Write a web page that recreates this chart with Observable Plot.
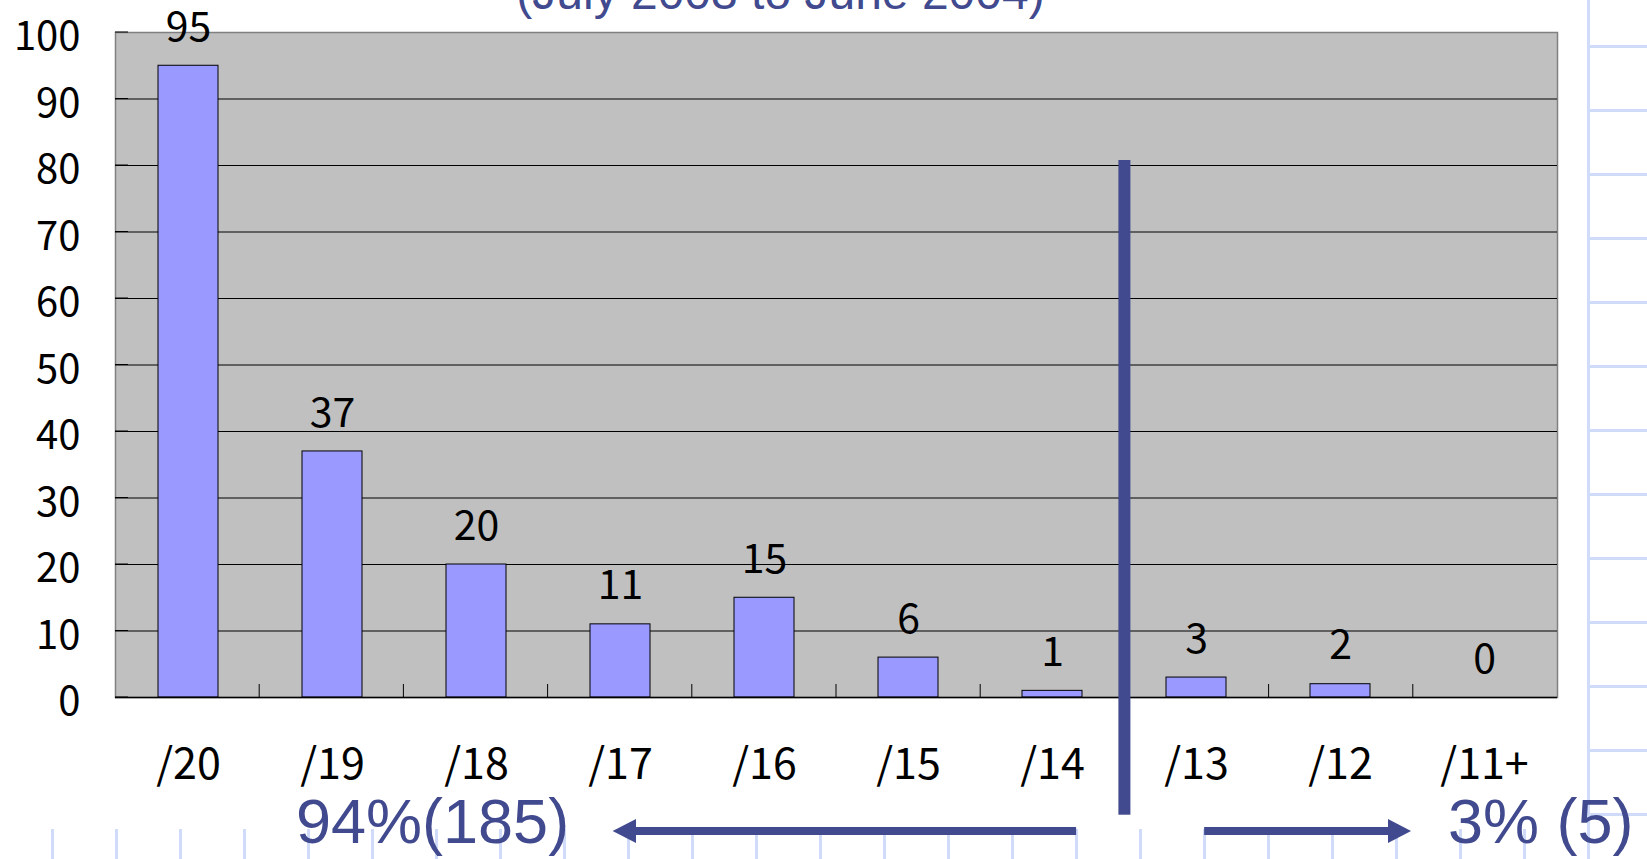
<!DOCTYPE html>
<html><head><meta charset="utf-8">
<script src="https://cdn.jsdelivr.net/npm/d3@7"></script>
<script src="https://cdn.jsdelivr.net/npm/@observablehq/plot@0.6"></script>
<style>
html,body{margin:0;padding:0;background:#fff;}
#wrap{position:relative;width:1647px;height:859px;overflow:hidden;background-color:#fff;
 background-image:linear-gradient(to right,#cfdbf8 3px,transparent 3px),linear-gradient(to bottom,#cfdbf8 3px,transparent 3px);
 background-size:64px 64px;background-position:51px 45px;}
#cover{position:absolute;left:0;top:0;width:1587px;height:829px;background:#fff;}
#chart{position:absolute;left:0;top:0;}
#chart svg{overflow:hidden;}
</style></head><body>
<div id="wrap"><div id="cover"></div><div id="chart"></div></div>
<script>
const categories = ["/20","/19","/18","/17","/16","/15","/14","/13","/12","/11+"];
const counts = [95,37,20,11,15,6,1,3,2,0];
const yTicks = [0,10,20,30,40,50,60,70,80,90,100];
const gridValues = [10,20,30,40,50,60,70,80,90];
const subtitle = "(July 2003 to June 2004)";
const leftNote = "94%(185)";
const rightNote = "3% (5)";

const data = categories.map((c, i) => ({cat: c, value: counts[i]}));
const NAVY = "#414a8e";
const CJK = "'Noto Sans CJK JP', 'Noto Sans', sans-serif";
const LAT = "'Liberation Sans', Arial, sans-serif";

function annotations(index, scales, values, dims) {
  const L = dims.marginLeft, R = dims.width - dims.marginRight;
  const step = (R - L) / categories.length;
  const X = u => L + u * step;
  const Y = scales.y;
  const g = d3.create("svg:g");
  // inward tick marks on the value axis
  g.selectAll("line.yt").data(yTicks).join("line")
    .attr("x1", L).attr("x2", L + 13).attr("y1", d => Y(d)).attr("y2", d => Y(d))
    .attr("stroke", "#000").attr("stroke-width", 1);
  // inward tick marks at category boundaries
  g.selectAll("line.xt").data(d3.range(1, categories.length)).join("line")
    .attr("x1", d => X(d)).attr("x2", d => X(d)).attr("y1", Y(0)).attr("y2", Y(0) - 13)
    .attr("stroke", "#000").attr("stroke-width", 1);
  // divider between /14 and /13
  g.append("rect").attr("x", X(7) - 6).attr("width", 12)
    .attr("y", Y(80.75)).attr("height", Y(-17.7) - Y(80.75)).attr("fill", NAVY);
  // arrows
  const ay = Y(-20.15);
  g.append("rect").attr("x", X(3.6)).attr("width", X(6.665) - X(3.6))
    .attr("y", ay - 4).attr("height", 8).attr("fill", NAVY);
  g.append("path").attr("d", `M${X(3.451)},${ay}L${X(3.613)},${ay - 12}L${X(3.613)},${ay + 12}Z`).attr("fill", NAVY);
  g.append("rect").attr("x", X(7.553)).attr("width", X(8.84) - X(7.553))
    .attr("y", ay - 4).attr("height", 8).attr("fill", NAVY);
  g.append("path").attr("d", `M${X(8.988)},${ay}L${X(8.828)},${ay - 12}L${X(8.828)},${ay + 12}Z`).attr("fill", NAVY);
  // notes
  const ty = Y(-21.95);
  g.append("text").attr("x", X(1.255)).attr("y", ty).attr("fill", NAVY).attr("text-anchor", "start")
    .attr("font-family", LAT).attr("font-size", 63).text(leftNote);
  g.append("text").attr("x", X(9.244)).attr("y", ty).attr("fill", NAVY).attr("text-anchor", "start")
    .attr("font-family", LAT).attr("font-size", 63).text(rightNote);
  // subtitle (cut off at the top of the page)
  g.append("text").attr("x", X(4.615)).attr("y", Y(103.5)).attr("fill", NAVY)
    .attr("text-anchor", "middle").attr("font-family", LAT).attr("font-size", 48).text(subtitle);
  return g.node();
}

const chart = Plot.plot({
  width: 1647,
  height: 859,
  marginLeft: 115,
  marginRight: 90,
  marginTop: 32,
  marginBottom: 162,
  style: {background: "transparent", fontFamily: CJK, color: "#000"},
  x: {domain: categories, paddingInner: 0.58, paddingOuter: 0.29, axis: null},
  y: {domain: [0, 100], axis: null},
  marks: [
    Plot.frame({fill: "#c0c0c0", stroke: "#808080", strokeWidth: 1.5}),
    Plot.ruleY(gridValues, {stroke: "#000", strokeWidth: 1}),
    Plot.barY(data, {x: "cat", y: "value", fill: "#9999ff", stroke: "#000", strokeWidth: 1}),
    Plot.ruleY([0], {stroke: "#000", strokeWidth: 1.5}),
    Plot.text(data, {x: "cat", y: "value", text: d => String(d.value), dy: -38, fontSize: 41, fill: "#000", lineAnchor: "middle"}),
    Plot.text(yTicks, {y: d => d, text: d => String(d), frameAnchor: "left", textAnchor: "end", dx: -35, dy: 5, fontSize: 40, fill: "#000", lineAnchor: "middle"}),
    Plot.text(categories, {x: d => d, text: d => d, frameAnchor: "bottom", dy: 68, fontSize: 43, fill: "#000", lineAnchor: "middle"}),
    annotations
  ]
});
document.getElementById("chart").appendChild(chart);
</script>
</body></html>
